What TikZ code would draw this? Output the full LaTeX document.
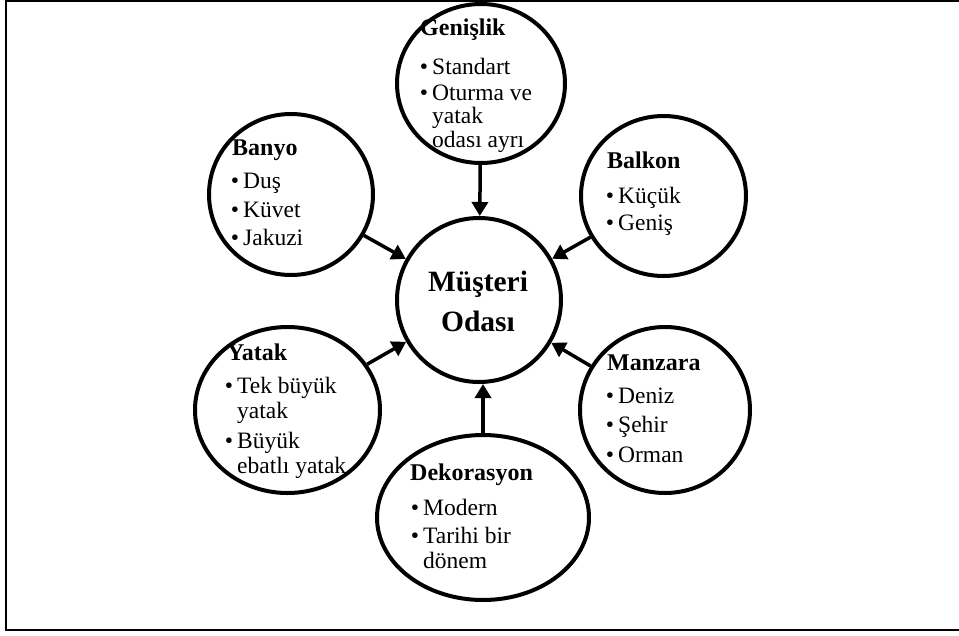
\documentclass[tikz,border=0pt]{standalone}
\usepackage{fontspec}
\setmainfont{Liberation Serif}
\usetikzlibrary{shapes.geometric,arrows.meta}

% bullet hanging to the left of an item's text
\newcommand{\bul}{\llap{\textbullet\hspace{4pt}}}

\tikzset{
  topic/.style={ellipse, draw, line width=4pt, fill=white, inner sep=0pt},
  hd/.style={font=\fontsize{24}{24}\selectfont\bfseries, anchor=base west, inner sep=0pt},
  itm/.style={font=\fontsize{23.5}{24}\selectfont, anchor=base west, inner sep=0pt},
  ctr/.style={font=\fontsize{29.5}{30}\selectfont\bfseries, anchor=base, inner sep=0pt},
  arr/.style={line width=3.5pt, -{Triangle[length=14pt,width=16pt]}},
}

\begin{document}
\begin{tikzpicture}[x=1pt,y=-1pt]
\useasboundingbox (0,0) rectangle (959,635);

% frame
\draw[line width=2pt] (959,1) -- (6,1) -- (6,630) -- (959,630);

% bubbles
\node[topic, minimum width=164pt, minimum height=164pt] (mus) at (479,300) {};
\node[topic, minimum width=168pt, minimum height=159pt] (gen) at (481,83.5) {};
\node[topic, minimum width=164pt, minimum height=161pt] (ban) at (291,194.5) {};
\node[topic, minimum width=165pt, minimum height=160pt] (bal) at (663.5,196) {};
\node[topic, minimum width=185pt, minimum height=166pt] (yat) at (287.5,410) {};
\node[topic, minimum width=170pt, minimum height=166pt] (man) at (665,410) {};
\node[topic, minimum width=212pt, minimum height=165pt] (dek) at (483,517.5) {};

% connectors towards the centre
\draw[arr] (gen) -- (mus);
\draw[arr] (ban) -- (mus);
\draw[arr] (bal) -- (mus);
\draw[arr] (yat) -- (mus);
\draw[arr] (man) -- (mus);
\draw[arr] (dek.north) -- (dek.north |- mus.south);

% centre label
\node[ctr] (mus-1) at (478,291) {Müşteri};
\node[ctr] (mus-2) at (478,331) {Odası};

% Genişlik
\node[hd]  (gen-h) at (420,35) {Genişlik};
\node[itm] (gen-1) at (432,74) {\bul Standart};
\node[itm] (gen-2) at (432,100) {\bul Oturma ve};
\node[itm] (gen-3) at (432,123) {yatak};
\node[itm] (gen-4) at (432,147) {odası ayrı};

% Banyo
\node[hd]  (ban-h) at (232,155) {Banyo};
\node[itm] (ban-1) at (243,188) {\bul Duş};
\node[itm] (ban-2) at (243,217) {\bul Küvet};
\node[itm] (ban-3) at (243,245) {\bul Jakuzi};

% Balkon
\node[hd]  (bal-h) at (607,168) {Balkon};
\node[itm] (bal-1) at (618,203) {\bul Küçük};
\node[itm] (bal-2) at (618,230) {\bul Geniş};

% Yatak
\node[hd]  (yat-h) at (227,360) {Yatak};
\node[itm] (yat-1) at (237,393) {\bul Tek büyük};
\node[itm] (yat-2) at (237,418) {yatak};
\node[itm] (yat-3) at (237,448) {\bul Büyük};
\node[itm] (yat-4) at (237,473) {ebatlı yatak};

% Manzara
\node[hd]  (man-h) at (607,370) {Manzara};
\node[itm] (man-1) at (618,403) {\bul Deniz};
\node[itm] (man-2) at (618,432) {\bul Şehir};
\node[itm] (man-3) at (618,462) {\bul Orman};

% Dekorasyon
\node[hd]  (dek-h) at (410,480) {Dekorasyon};
\node[itm] (dek-1) at (423,515) {\bul Modern};
\node[itm] (dek-2) at (423,543) {\bul Tarihi bir};
\node[itm] (dek-3) at (423,568) {dönem};
\end{tikzpicture}
\end{document}
